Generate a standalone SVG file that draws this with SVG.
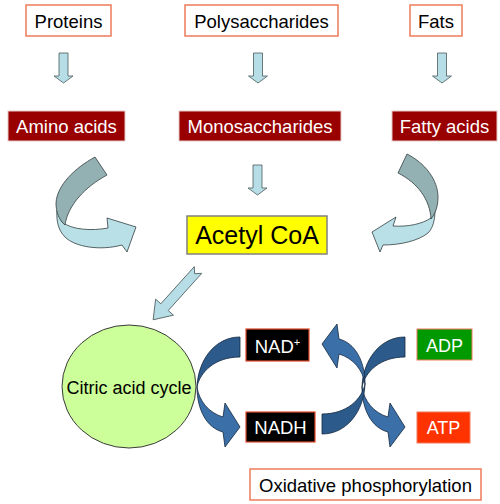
<svg xmlns="http://www.w3.org/2000/svg" width="500" height="504" viewBox="0 0 500 504">
<defs>
<style>
.src{fill:#ffffff;stroke:#f07a5a;stroke-width:1.5}
.prod{fill:#990000;stroke:#e8c8c8;stroke-width:1}
.t{font-family:"Liberation Sans",Arial,sans-serif;font-size:18.5px;text-anchor:middle}
.dk{fill:#000000}
.wt{fill:#ffffff}
.down{fill:#b7dde6;stroke:#4a5a5a;stroke-width:0.8}
.cd{fill:#93b0b2;stroke:#333f40;stroke-width:0.8}
.cl{fill:#b9e0e6;stroke:#333f40;stroke-width:0.8}
.bd{fill:#2c5a8a;stroke:#142840;stroke-width:0.8}
.bl{fill:#3a6fa8;stroke:#142840;stroke-width:0.8}
</style>
<path id="dn" d="M-4.5,0 H4.5 V23 H9.5 L0,30 L-9.5,23 H-4.5 Z"/>
<g id="blue">
<path class="bl" d="M197,387 C199,401 209,413 223,417 L225,403 L240,427 L225,447 L223,432 C207,428 197,410 197,387 Z"/>
<path class="bd" d="M240,337 C215,337 198,360 197,387 C200,372 215,357 240,357 Z"/>
</g>
</defs>
<rect width="500" height="504" fill="#ffffff"/>

<g id="connectors">
<use href="#dn" class="down" x="63.5" y="53"/>
<use href="#dn" class="down" x="258" y="53"/>
<use href="#dn" class="down" x="442" y="53"/>
<use href="#dn" class="down" x="257.5" y="165"/>
<g id="amino-to-acetyl">
<path class="cl" d="M62,222 C72,230 92,231 108,228 L107,218 L136,227 L127,252 L122,245 C100,251 75,247 65,237 C59,231 56,222 57,210 Z"/>
<path class="cd" d="M95,157 C75,168 57,185 56,203 C56,212 59,220 65,225 C68,205 85,187 107,175 Z"/>
</g>
<g id="fatty-to-acetyl">
<path class="cl" d="M431,218 C422,224 408,227 393,226 L396,217 L372,232 L380,252 L383,245 C400,245 418,241 428,233 C433,228 435,220 435,210 Z"/>
<path class="cd" d="M407,154 C425,163 438,180 438,197 C438,207 435,214 431,219 C430,200 418,183 398,173 Z"/>
</g>
<path id="acetyl-to-cycle" class="down" transform="translate(198,270) rotate(132)" d="M0,-5 L50,-5 L50,-12 L67,0 L50,12 L50,5 L0,5 L5,0 Z"/>
</g>

<g id="cycle">
<ellipse cx="129" cy="386.5" rx="67" ry="61.5" fill="#ccff99" stroke="#3a3a3a" stroke-width="1"/>
<text class="t dk" x="129" y="394" style="font-size:18px">Citric acid cycle</text>
</g>

<g id="blue-arrows">
<use href="#blue"/>
<use href="#blue" transform="translate(165,0)"/>
<use href="#blue" transform="rotate(180,281,385.5)"/>
</g>

<g id="proteins"><rect class="src" x="26" y="5" width="85" height="31"/><text class="t dk" x="68.5" y="28">Proteins</text></g>
<g id="polysaccharides"><rect class="src" x="185" y="5" width="153" height="31"/><text class="t dk" x="261.5" y="28">Polysaccharides</text></g>
<g id="fats"><rect class="src" x="410" y="5" width="52" height="31"/><text class="t dk" x="436" y="28">Fats</text></g>

<g id="amino-acids"><rect class="prod" x="8" y="111" width="117" height="30"/><text class="t wt" x="66.5" y="133">Amino acids</text></g>
<g id="monosaccharides"><rect class="prod" x="179" y="111" width="162" height="30"/><text class="t wt" x="260" y="133">Monosaccharides</text></g>
<g id="fatty-acids"><rect class="prod" x="392" y="111" width="105" height="30"/><text class="t wt" x="444.5" y="133">Fatty acids</text></g>

<g id="acetyl-coa"><rect x="187" y="216" width="140" height="38" fill="#ffff00" stroke="#808080" stroke-width="1.5"/><text class="t dk" x="257" y="244" style="font-size:25px">Acetyl CoA</text></g>

<g id="nad"><rect x="246" y="329" width="63" height="32" fill="#000000" stroke="#e04a2a" stroke-width="1.2"/><text class="t wt" x="277.5" y="353">NAD<tspan dy="-7" style="font-size:11px">+</tspan></text></g>
<g id="nadh"><rect x="246" y="412" width="69" height="30" fill="#000000" stroke="#e04a2a" stroke-width="1.2"/><text class="t wt" x="280.5" y="434">NADH</text></g>
<g id="adp"><rect x="417" y="329" width="55" height="31" fill="#009900" stroke="#f07a5a" stroke-width="1"/><text class="t wt" x="444.5" y="352" style="font-size:18px">ADP</text></g>
<g id="atp"><rect x="417" y="412" width="53" height="31" fill="#ff3300" stroke="#f07a5a" stroke-width="1"/><text class="t wt" x="443.5" y="434" style="font-size:18px">ATP</text></g>
<g id="oxphos"><rect class="src" x="250" y="469" width="231" height="31"/><text class="t dk" x="365.5" y="492">Oxidative phosphorylation</text></g>
</svg>
